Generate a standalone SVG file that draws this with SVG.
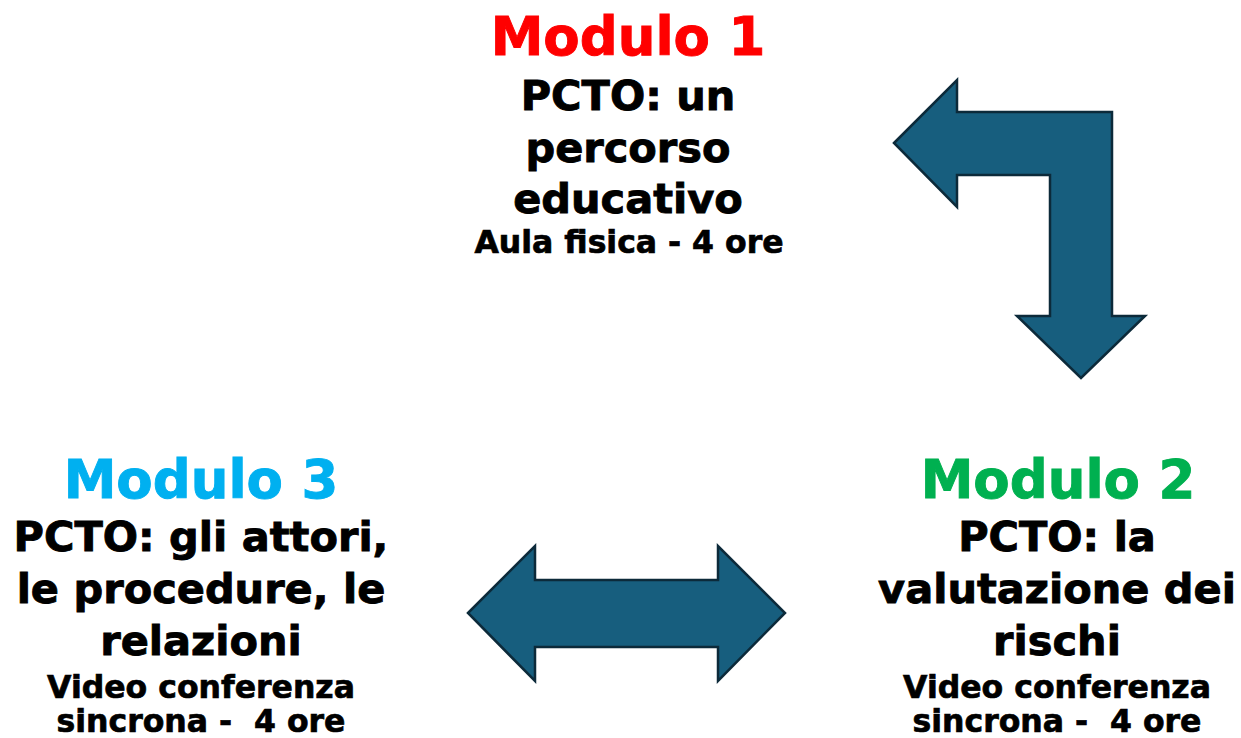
<svg xmlns="http://www.w3.org/2000/svg" width="1241" height="738" viewBox="0 0 1241 738">
<style>
text{font-family:"DejaVu Sans","Verdana",sans-serif;font-weight:bold;text-anchor:middle;fill:#000;stroke:#000;white-space:pre}
.h{font-size:53px;stroke-width:0.9}
.b{font-size:41.5px;stroke-width:0.9}
.s{font-size:31.5px;stroke-width:0.7}
.m1{fill:#FF0000;stroke:#FF0000}
.m2{fill:#00B050;stroke:#00B050}
.m3{fill:#00B0F0;stroke:#00B0F0}
.arrow{fill:#175E7E;stroke:#0C2A3A;stroke-width:2.5;stroke-linejoin:miter}
</style>
<rect width="1241" height="738" fill="#fff"/>
<g id="connectors">
<polygon class="arrow" points="894,143 957,80 957,112 1112,112 1112,316 1145,316 1081,378 1017,316 1050,316 1050,175 957,175 957,207"/>
<polygon class="arrow" points="468,613 535,546 535,580 718,580 718,546 785,613 718,681 718,647 535,647 535,681"/>
</g>
<g id="modulo1">
<text class="h m1" x="628" y="55">Modulo 1</text>
<text class="b" x="628" y="110">PCTO: un</text>
<text class="b" x="628" y="162">percorso</text>
<text class="b" x="628" y="213">educativo</text>
<text class="s" x="629" y="253">Aula fisica - 4 ore</text>
</g>
<g id="modulo2">
<text class="h m2" x="1058" y="498">Modulo 2</text>
<text class="b" x="1057" y="551">PCTO: la</text>
<text class="b" x="1057" y="603">valutazione dei</text>
<text class="b" x="1057" y="655">rischi</text>
<text class="s" x="1057" y="698">Video conferenza</text>
<text class="s" x="1057" y="732">sincrona -  4 ore</text>
</g>
<g id="modulo3">
<text class="h m3" x="201" y="498">Modulo 3</text>
<text class="b" x="201" y="551">PCTO: gli attori,</text>
<text class="b" x="201" y="603">le procedure, le</text>
<text class="b" x="201" y="655">relazioni</text>
<text class="s" x="201" y="698">Video conferenza</text>
<text class="s" x="201" y="732">sincrona -  4 ore</text>
</g>
</svg>
